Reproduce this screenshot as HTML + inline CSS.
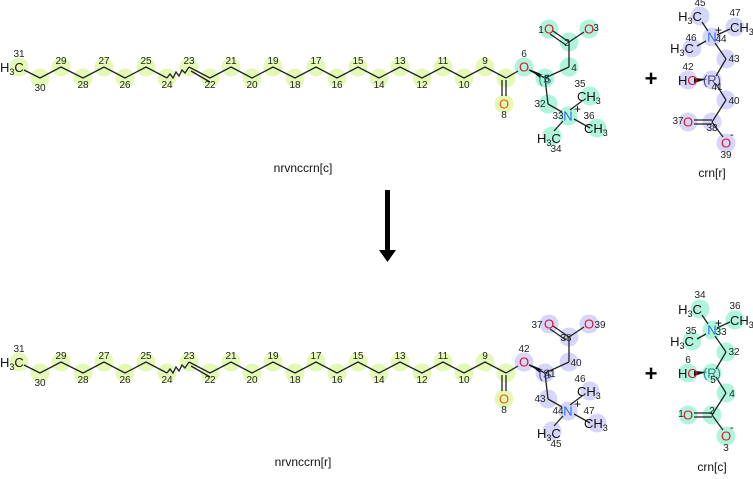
<!DOCTYPE html>
<html><head><meta charset="utf-8"><style>
body{margin:0;background:#fff;width:753px;height:474px;overflow:hidden}
svg{font-family:"Liberation Sans",sans-serif}
.n{font-size:10px;fill:#222;text-anchor:middle}
.a{font-size:13px;text-anchor:middle;dominant-baseline:central}
.o{fill:#e0142a}.nn{fill:#2a6de0}.k{fill:#111}
.y{fill:#e4f9b6}.t{fill:#aef5dc}.l{fill:#d6d6fa}
.b{stroke:#222;stroke-width:1.3;fill:none}
.lab{font-size:12px;text-anchor:middle;fill:#111}
.m{font-size:13px;fill:#111}
</style></head><body>
<svg width="753" height="474" viewBox="0 0 753 474">
<defs>
<g id="chain">
<g class="y">
<circle cx="19" cy="67" r="9.5"/><circle cx="40" cy="78" r="9.5"/><circle cx="61" cy="67" r="9.5"/><circle cx="83" cy="78" r="9.5"/><circle cx="104" cy="67" r="9.5"/><circle cx="125" cy="78" r="9.5"/><circle cx="146" cy="67" r="9.5"/><circle cx="167" cy="78" r="9.5"/><circle cx="189" cy="67" r="9.5"/><circle cx="210" cy="78" r="9.5"/><circle cx="231" cy="67" r="9.5"/><circle cx="252" cy="78" r="9.5"/><circle cx="273" cy="67" r="9.5"/><circle cx="295" cy="78" r="9.5"/><circle cx="316" cy="67" r="9.5"/><circle cx="337" cy="78" r="9.5"/><circle cx="358" cy="67" r="9.5"/><circle cx="379" cy="78" r="9.5"/><circle cx="400" cy="67" r="9.5"/><circle cx="422" cy="78" r="9.5"/><circle cx="443" cy="67" r="9.5"/><circle cx="464" cy="78" r="9.5"/><circle cx="485" cy="67" r="9.5"/><circle cx="506" cy="78" r="9.5"/><circle cx="504" cy="104" r="9.5"/>
</g>
<polyline class="b" points="24,70 40,78 61,67 83,78 104,67 125,78 146,67 167,78"/>
<polyline class="b" points="167,78 170,74 173,78 176,72 179,76 182,70 185,73 189,67"/>
<polyline class="b" points="189,67 210,78 231,67 252,78 273,67 295,78 316,67 337,78 358,67 379,78 400,67 422,78 443,67 464,78 485,67 506,78"/>
<line class="b" x1="191" y1="71" x2="210" y2="82"/>
<line class="b" x1="502" y1="80" x2="502" y2="96"/><line class="b" x1="506" y1="80" x2="506" y2="96"/>
<text x="0" y="72" class="m">H<tspan font-size="9" dy="3">3</tspan><tspan dy="-3">C</tspan></text>
<g class="n">
<text x="19" y="57">31</text><text x="40" y="91">30</text><text x="61" y="64">29</text><text x="83" y="88">28</text><text x="104" y="64">27</text><text x="125" y="88">26</text><text x="146" y="64">25</text><text x="167" y="88">24</text><text x="189" y="64">23</text><text x="210" y="88">22</text><text x="231" y="64">21</text><text x="252" y="88">20</text><text x="273" y="64">19</text><text x="295" y="88">18</text><text x="316" y="64">17</text><text x="337" y="88">16</text><text x="358" y="64">15</text><text x="379" y="88">14</text><text x="400" y="64">13</text><text x="422" y="88">12</text><text x="443" y="64">11</text><text x="464" y="88">10</text><text x="485" y="64">9</text><text x="504" y="118">8</text>
</g>
<text class="a o" x="504" y="104" style="fill:#e85a10">O</text>
<line class="b" x1="506" y1="78" x2="518" y2="71"/>
<line class="b" x1="529" y1="70" x2="545" y2="78"/>
<line class="b" x1="545" y1="78" x2="569" y2="67"/><line class="b" x1="569" y1="67" x2="569" y2="42"/>
<line class="b" x1="569" y1="42" x2="553" y2="31"/><line class="b" x1="566" y1="45" x2="550" y2="34"/>
<line class="b" x1="569" y1="42" x2="584" y2="32"/>
<line class="b" x1="545" y1="78" x2="548" y2="104"/><line class="b" x1="548" y1="104" x2="562" y2="112"/>
<line class="b" x1="570" y1="110" x2="582" y2="101"/><line class="b" x1="574" y1="119" x2="590" y2="128"/><line class="b" x1="563" y1="121" x2="554" y2="131"/>
<polygon points="529,69 541,74 540,78" fill="#111"/>
</g>
</defs>

<g class="t"><circle cx="524" cy="67" r="9.5"/><circle cx="545" cy="78" r="9.5"/><circle cx="569" cy="67" r="9.5"/><circle cx="569" cy="42" r="9.5"/><circle cx="549" cy="29" r="9.5"/><circle cx="589" cy="29" r="9.5"/><circle cx="548" cy="104" r="9.5"/><circle cx="568" cy="116" r="9.5"/><circle cx="590" cy="96" r="9.5"/><circle cx="597" cy="128" r="9.5"/><circle cx="552" cy="136" r="9.5"/></g>
<use href="#chain"/>
<text class="a o" x="524" y="67">O</text><text class="n" x="524" y="57">6</text>
<text class="a" x="545" y="79" style="fill:#2a8a80">(S</text><text class="n" x="547" y="82">5</text>
<text class="n" x="574" y="71">4</text><text class="n" x="567" y="46">2</text>
<text class="a o" x="549" y="29">O</text><text class="n" x="541" y="33">1</text>
<text class="a o" x="589" y="29">O</text><text class="n" x="596" y="31">3</text>
<text class="n" x="540" y="107">32</text>
<text class="a nn" x="568" y="116">N</text><text class="n" x="558" y="119">33</text><text x="574" y="113" style="font-size:12px">+</text>
<text x="577" y="101" class="m">CH<tspan font-size="9" dy="3">3</tspan></text><text class="n" x="580" y="87">35</text>
<text x="584" y="133" class="m">CH<tspan font-size="9" dy="3">3</tspan></text><text class="n" x="589" y="119">36</text>
<text x="537" y="143" class="m">H<tspan font-size="9" dy="3">3</tspan><tspan dy="-3">C</tspan></text><text class="n" x="556" y="152">34</text>
<text class="lab" x="303" y="172">nrvnccrn[c]</text>

<g class="l"><circle cx="700" cy="16" r="9.5"/><circle cx="735" cy="27" r="9.5"/><circle cx="712" cy="37" r="9.5"/><circle cx="692" cy="48" r="9.5"/><circle cx="726" cy="59" r="9.5"/><circle cx="712" cy="80" r="9.5"/><circle cx="688" cy="80" r="9.5"/><circle cx="726" cy="100" r="9.5"/><circle cx="712" cy="122" r="9.5"/><circle cx="688" cy="122" r="9.5"/><circle cx="726" cy="143" r="9.5"/></g>
<g class="b"><line x1="702" y1="22" x2="708" y2="31"/><line x1="717" y1="35" x2="730" y2="29"/><line x1="706" y1="41" x2="697" y2="46"/><line x1="715" y1="43" x2="726" y2="59"/><line x1="726" y1="59" x2="716" y2="76"/><line x1="716" y1="84" x2="726" y2="100"/><line x1="726" y1="100" x2="712" y2="122"/><line x1="712" y1="120" x2="694" y2="120"/><line x1="712" y1="124" x2="694" y2="124"/><line x1="712" y1="122" x2="723" y2="137"/></g>
<polygon points="694,78 707,79 694,83" fill="#111"/>
<text x="690" y="21" class="m" text-anchor="middle">H<tspan font-size="9" dy="3">3</tspan><tspan dy="-3">C</tspan></text><text class="n" x="700" y="6">45</text>
<text x="730" y="32" class="m">CH<tspan font-size="9" dy="3">3</tspan></text><text class="n" x="735" y="16">47</text>
<text class="a nn" x="712" y="37">N</text><text x="715" y="34" style="font-size:12px">+</text><text class="n" x="721" y="42">44</text>
<text x="682" y="53" class="m" text-anchor="middle">H<tspan font-size="9" dy="3">3</tspan><tspan dy="-3">C</tspan></text><text class="n" x="691" y="41">46</text>
<text class="n" x="734" y="62">43</text>
<text class="a" x="712" y="80" style="fill:#4a4a8a">(R)</text><text class="n" x="717" y="90">41</text>
<text x="678" y="85" class="m">H<tspan fill="#e0142a">O</tspan></text><text class="n" x="688" y="70">42</text>
<text class="n" x="734" y="104">40</text>
<text class="n" x="712" y="131">38</text>
<text class="a o" x="688" y="122">O</text><text class="n" x="678" y="124">37</text>
<text class="a o" x="726" y="143">O</text><text x="730" y="138" style="font-size:11px">-</text><text class="n" x="726" y="158">39</text>
<text class="lab" x="712" y="177">crn[r]</text>
<text x="651" y="86" style="font-size:22px;font-weight:bold" text-anchor="middle">+</text>

<rect x="385" y="190" width="5" height="60" fill="#000"/>
<polygon points="379,250 396,250 387.5,262" fill="#000"/>

<g transform="translate(0,295)">
<g class="l"><circle cx="524" cy="67" r="9.5"/><circle cx="545" cy="78" r="9.5"/><circle cx="569" cy="67" r="9.5"/><circle cx="569" cy="42" r="9.5"/><circle cx="549" cy="29" r="9.5"/><circle cx="589" cy="29" r="9.5"/><circle cx="548" cy="104" r="9.5"/><circle cx="568" cy="116" r="9.5"/><circle cx="590" cy="96" r="9.5"/><circle cx="597" cy="128" r="9.5"/><circle cx="552" cy="136" r="9.5"/></g>
<use href="#chain"/>
<text class="a o" x="524" y="67">O</text><text class="n" x="524" y="57">42</text>
<text class="a" x="545" y="79" style="fill:#4a4a8a">(S</text><text class="n" x="550" y="82">41</text>
<text class="n" x="576" y="71">40</text><text class="n" x="566" y="46">38</text>
<text class="a o" x="549" y="29">O</text><text class="n" x="537" y="33">37</text>
<text class="a o" x="589" y="29">O</text><text class="n" x="600" y="33">39</text>
<text class="n" x="540" y="107">43</text>
<text class="a nn" x="568" y="116">N</text><text class="n" x="558" y="119">44</text><text x="574" y="113" style="font-size:12px">+</text>
<text x="577" y="101" class="m">CH<tspan font-size="9" dy="3">3</tspan></text><text class="n" x="580" y="87">46</text>
<text x="584" y="133" class="m">CH<tspan font-size="9" dy="3">3</tspan></text><text class="n" x="589" y="119">47</text>
<text x="537" y="143" class="m">H<tspan font-size="9" dy="3">3</tspan><tspan dy="-3">C</tspan></text><text class="n" x="556" y="152">45</text>
<text class="lab" x="303" y="171">nrvnccrn[r]</text>
</g>

<g transform="translate(0,293)">
<g class="t"><circle cx="700" cy="16" r="9.5"/><circle cx="735" cy="27" r="9.5"/><circle cx="712" cy="37" r="9.5"/><circle cx="692" cy="48" r="9.5"/><circle cx="726" cy="59" r="9.5"/><circle cx="712" cy="80" r="9.5"/><circle cx="688" cy="80" r="9.5"/><circle cx="726" cy="100" r="9.5"/><circle cx="712" cy="122" r="9.5"/><circle cx="688" cy="122" r="9.5"/><circle cx="726" cy="143" r="9.5"/></g>
<g class="b"><line x1="702" y1="22" x2="708" y2="31"/><line x1="717" y1="35" x2="730" y2="29"/><line x1="706" y1="41" x2="697" y2="46"/><line x1="715" y1="43" x2="726" y2="59"/><line x1="726" y1="59" x2="716" y2="76"/><line x1="716" y1="84" x2="726" y2="100"/><line x1="726" y1="100" x2="712" y2="122"/><line x1="712" y1="120" x2="694" y2="120"/><line x1="712" y1="124" x2="694" y2="124"/><line x1="712" y1="122" x2="723" y2="137"/></g>
<polygon points="694,78 707,79 694,83" fill="#111"/>
<text x="690" y="21" class="m" text-anchor="middle">H<tspan font-size="9" dy="3">3</tspan><tspan dy="-3">C</tspan></text><text class="n" x="700" y="5">34</text>
<text x="730" y="32" class="m">CH<tspan font-size="9" dy="3">3</tspan></text><text class="n" x="735" y="16">36</text>
<text class="a nn" x="712" y="37">N</text><text x="715" y="34" style="font-size:12px">+</text><text class="n" x="721" y="42">33</text>
<text x="682" y="53" class="m" text-anchor="middle">H<tspan font-size="9" dy="3">3</tspan><tspan dy="-3">C</tspan></text><text class="n" x="691" y="41">35</text>
<text class="n" x="734" y="62">32</text>
<text class="a" x="712" y="80" style="fill:#2a8a80">(R)</text><text class="n" x="713" y="90">5</text>
<text x="678" y="85" class="m">H<tspan fill="#e0142a">O</tspan></text><text class="n" x="688" y="70">6</text>
<text class="n" x="732" y="104">4</text>
<text class="n" x="712" y="121">2</text>
<text class="a o" x="688" y="122">O</text><text class="n" x="681" y="124">1</text>
<text class="a o" x="726" y="143">O</text><text x="730" y="138" style="font-size:11px">-</text><text class="n" x="726" y="158">3</text>
<text class="lab" x="712" y="178">crn[c]</text>
</g>
<text x="651" y="381" style="font-size:22px;font-weight:bold" text-anchor="middle">+</text>
</svg>
</body></html>
